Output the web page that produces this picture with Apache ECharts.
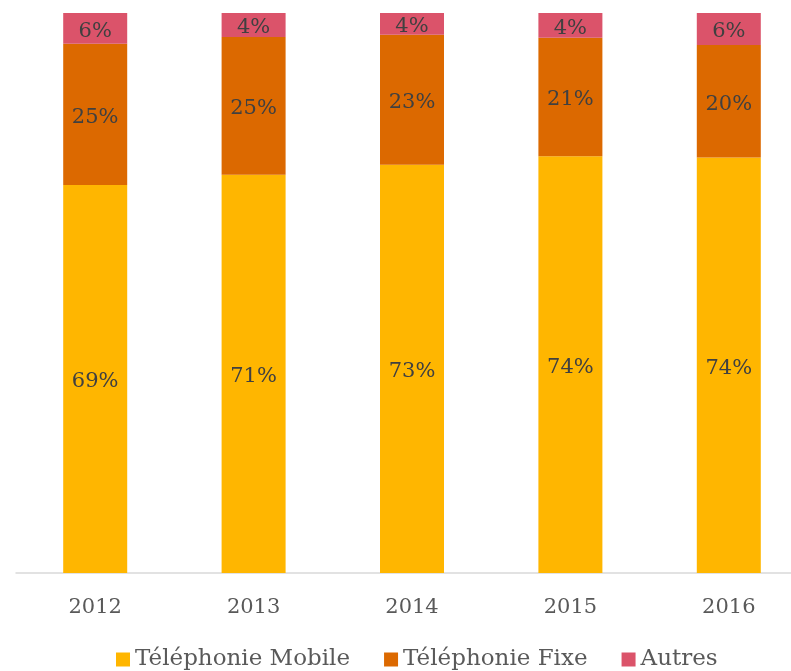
<!DOCTYPE html>
<html>
<head>
<meta charset="utf-8">
<script src="https://cdn.jsdelivr.net/npm/echarts@6/dist/echarts.min.js"></script>
<style>
html, body { margin: 0; padding: 0; background: #fff; overflow: hidden; }
#chart { width: 830px; height: 671px; }
</style>
</head>
<body>
<div id="chart"></div>
<script>
// données (% du total)
var years = ['2012', '2013', '2014', '2015', '2016'];
var mobile = [69.3, 71.1, 72.9, 74.4, 74.2];
var fixe = [25.2, 24.6, 23.2, 21.2, 20.1];
var autres = [5.5, 4.3, 3.9, 4.4, 5.7];

var font = 'DejaVu Serif';
var myChart = echarts.init(document.getElementById('chart'));

function barLabel() {
	return {
		show: true,
		position: 'inside',
		offset: [0, 3],
		color: '#404040',
		fontFamily: font,
		fontSize: 21,
		formatter: function (p) { return Math.round(p.value) + '%'; }
	};
}

var option = {
	animation: false,
	grid: {
		left: 16,
		width: 792,
		top: 13,
		bottom: 98
	},
	legend: {
		data: ['Téléphonie Mobile', 'Téléphonie Fixe', 'Autres'],
		left: 116,
		top: 648,
		padding: 0,
		itemWidth: 14,
		itemHeight: 14,
		itemGap: 34,
		icon: 'rect',
		textStyle: {
			color: '#595959',
			fontFamily: font,
			fontSize: 23,
			padding: [0, 0, 0, 0]
		}
	},
	xAxis: {
		type: 'category',
		data: years,
		axisTick: { show: false },
		axisLine: { lineStyle: { color: '#d9d9d9', width: 1.5 } },
		axisLabel: {
			color: '#595959',
			fontFamily: font,
			fontSize: 21,
			margin: 24
		}
	},
	yAxis: {
		type: 'value',
		min: 0,
		max: 100,
		show: false,
		splitLine: { show: false }
	},
	series: [
		{
			name: 'Téléphonie Mobile',
			type: 'bar',
			stack: 'total',
			barWidth: 64,
			itemStyle: { color: '#FFB600' },
			label: barLabel(),
			data: mobile
		},
		{
			name: 'Téléphonie Fixe',
			type: 'bar',
			stack: 'total',
			barWidth: 64,
			itemStyle: { color: '#DC6900' },
			label: barLabel(),
			data: fixe
		},
		{
			name: 'Autres',
			type: 'bar',
			stack: 'total',
			barWidth: 64,
			itemStyle: { color: '#DB536A' },
			label: barLabel(),
			data: autres
		}
	]
};
myChart.setOption(option);
</script>
</body>
</html>
